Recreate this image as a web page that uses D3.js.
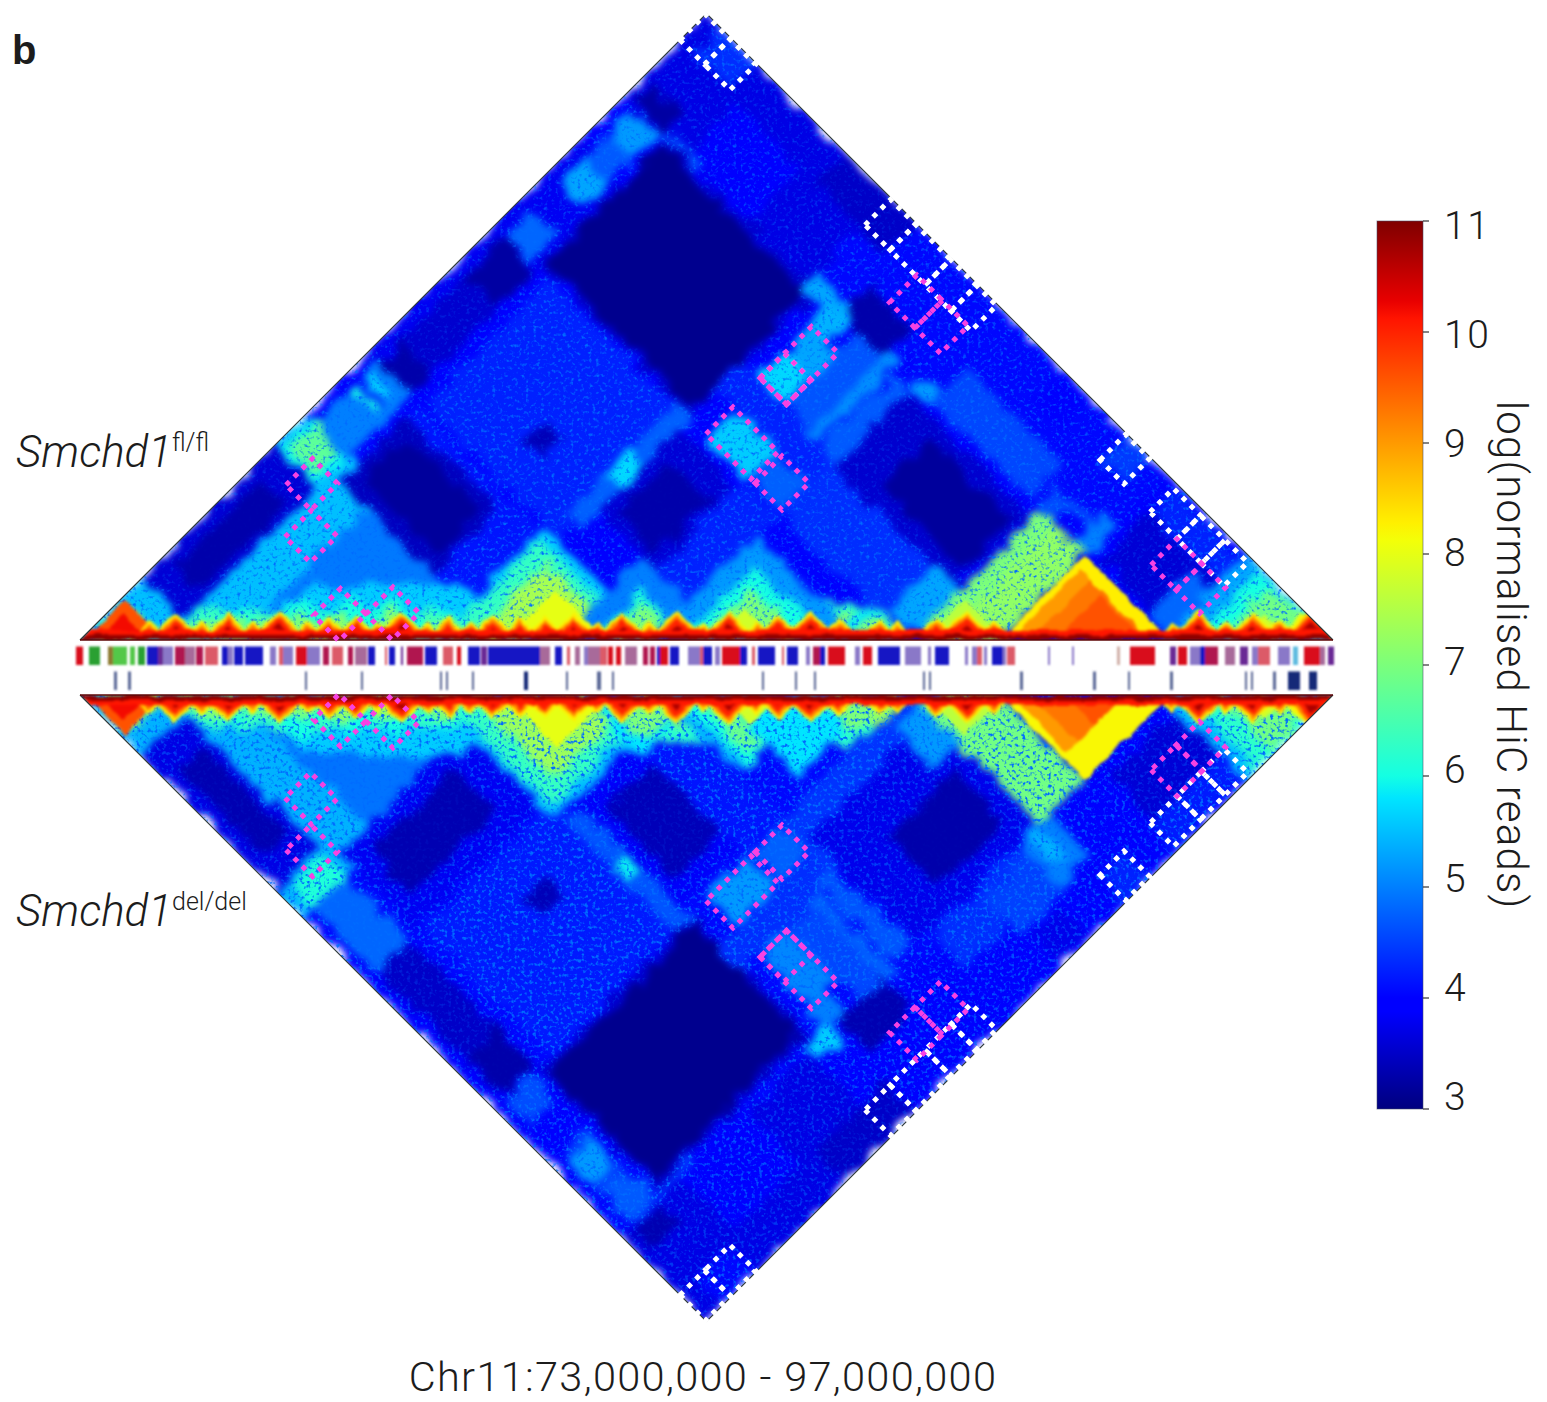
<!DOCTYPE html>
<html><head><meta charset="utf-8">
<script src="https://cdn.jsdelivr.net/npm/d3@7"></script>
<style>html,body{margin:0;background:#fff}svg{display:block}text{font-family:Roboto,"Liberation Sans",sans-serif;font-weight:300;fill:#1c1c1c}</style>
</head><body><div id="c"></div>
<script>
// genomic axis: 1253 bins of ~19.15 kb over Chr11:73-97 Mb
const binCount = 1253;
const colorTicks = [3,4,5,6,7,8,9,10,11];
// contact-map blocks [startBinA, endBinA, startBinB, endBinB, log reads]
const upperBlocks = [
[0,1253,0,1253,4.0],[0,370,1085,1253,3.7],[370,920,1110,1253,4.05],[280,420,1190,1253,3.5],[120,250,1080,1190,3.95],
[15,72,1090,1128,3.25],[30,100,1200,1253,4.35],[0,90,560,1000,3.8],[110,380,580,830,4.25],[23,72,937,1085,4.7],[23,72,937,985,5.3],[23,72,1035,1082,5.2],
[75,150,1078,1098,4.6],[20,70,828,880,4.8],[20,85,575,825,3.55],[25,85,750,825,3.25],[20,85,570,620,3.3],
[85,390,835,1085,3.55],[90,382,845,1075,3.1],[245,282,645,685,3.4],[358,392,610,835,4.75],[360,390,690,740,5.7],
[0,160,0,450,5.5],[12,85,390,450,5.9],[20,70,400,450,6.7],[20,85,450,575,5.0],[20,70,522,532,6.0],[20,70,545,555,5.8],[20,70,535,543,4.2],
[0,85,125,390,3.6],[20,70,170,340,3.3],[155,350,155,420,4.95],[100,350,420,570,4.15],[102,285,420,550,3.45],[125,270,440,530,3.2],
[425,505,825,890,5.6],[510,572,830,886,4.75],[390,505,645,810,3.6],[410,490,665,770,3.3],[505,580,560,820,4.25],
[382,580,888,942,4.25],[471,520,942,1090,4.65],[418,471,942,1045,5.3],[418,471,942,991,5.7],[520,540,935,1095,5.1],[545,580,930,1080,4.7],
[370,450,1070,1105,5.3],[415,450,1040,1085,5.4],[435,520,1085,1145,3.3],[575,610,1080,1105,5.2],
[572,825,825,930,4.35],[580,823,927,1075,3.55],[650,810,955,1050,3.2],[610,810,1090,1160,4.55],[710,770,1190,1250,3.9],
[780,845,845,930,5.3],[830,920,855,1090,7.0],[860,920,920,1090,7.2],[820,920,1090,1130,4.6],[850,895,1090,1120,3.9],[895,925,1090,1150,5.0],
[925,1095,1090,1253,4.0],[940,1090,1100,1200,3.6],[942,1090,1198,1245,4.25],[1040,1095,1090,1180,4.8],[840,888,1200,1253,4.45]
];
const lowerBlocks = [
[0,1253,0,1253,4.05],[0,370,1085,1253,3.7],[370,920,1110,1253,4.0],[280,420,1190,1253,3.5],[120,250,1060,1190,3.9],
[15,72,1090,1128,3.35],[30,100,1200,1253,4.05],[0,90,560,1000,3.9],[110,380,580,830,4.2],[23,72,940,1085,4.5],[23,72,955,1000,5.2],[23,72,1020,1075,4.7],
[75,150,1060,1085,4.4],[20,70,828,880,4.6],[20,85,575,825,3.5],[25,85,750,825,3.3],[20,85,525,540,5.6],
[85,390,835,1070,3.55],[90,382,845,1060,3.1],[245,282,645,685,3.4],[358,392,610,835,4.65],[360,390,700,735,5.9],
[0,160,0,450,5.4],[12,85,390,450,5.4],[20,85,400,450,6.1],[20,85,450,575,4.8],
[0,85,125,390,3.7],[25,70,175,345,3.35],[155,350,155,420,4.9],[102,365,420,570,3.8],[135,300,445,530,3.35],
[425,505,825,890,5.2],[510,572,830,886,4.75],[390,560,585,810,3.85],[410,520,640,780,3.4],[505,580,585,820,4.15],
[382,580,888,942,4.35],[471,520,942,1090,4.55],[418,471,942,1045,5.05],[520,540,935,1095,4.75],[545,580,930,1080,4.65],
[375,420,1075,1105,5.6],[410,450,1045,1085,5.0],[435,520,1085,1145,3.35],
[572,825,825,930,4.4],[587,825,870,1085,3.75],[665,800,950,1050,3.3],[610,810,1090,1160,4.35],[700,800,1110,1180,4.5],[710,770,1190,1250,3.75],
[780,845,845,930,5.2],[830,920,855,1090,6.9],[790,850,1090,1170,5.0],[805,825,1095,1150,5.4],[860,910,1095,1125,4.0],
[920,1095,1090,1253,3.95],[950,1090,1110,1200,3.6],[942,1090,1198,1245,4.2],[840,888,1200,1253,4.25]
];
// distance-decay shoulders along the diagonal [startBin, endBin, reach in bins, log reads]
const upperShoulders = [
[170,440,110,5.6],[90,430,58,6.3],[90,430,40,7.2],[520,830,74,6.2],[520,830,50,7.2],[1090,1253,50,7.2]
];
const lowerShoulders = [
[170,440,120,5.6],[90,430,66,6.3],[90,430,44,7.2],[520,830,96,6.2],[520,830,64,7.2],[1090,1253,56,7.2]
];
// self-interacting domains seen as triangles on the diagonal [startBin, endBin, log reads]
const upperDomains = [
[350,575,5.6],[360,560,6.3],[390,545,7.4],[425,525,8.0],[10,85,6.2],[90,135,6],[125,190,6],[175,265,6],[225,315,6],[270,360,6],[330,400,6],
[15,85,7.2],[95,130,6.9],[135,180,7],[190,250,7],[230,290,7.2],[280,340,7.2],[335,390,7],
[480,645,5],[510,610,6],[520,600,7],[570,780,5.2],[600,750,6],[620,720,7],[635,695,7.8],[750,825,5.8],[765,815,7],
[845,925,7.6],[920,1090,8.3],[930,1070,9.0],[950,1070,9.3],[975,1065,9.6],[1080,1253,5.3],[1110,1250,6],[1135,1245,6.9],[1160,1210,7.8],[1195,1245,8],
[5,85,9.6],[18,70,10.2]
];
const lowerDomains = [
[350,600,5.5],[360,585,6.3],[390,560,7.3],[425,530,8.0],[10,85,6.2],[90,135,6],[125,190,6],[175,265,6],[225,315,6],[270,360,6],[330,400,6],
[15,85,7.2],[95,130,6.9],[135,180,7],[190,250,7],[230,290,7.2],[280,340,7.2],[335,390,7],
[500,620,5.8],[520,610,7],[580,740,5.4],[595,740,6],[610,730,6.8],[640,700,7.8],[640,800,5.8],[740,815,7],
[845,925,7.6],[920,1090,8.2],[930,1045,9.0],[950,1045,9.3],[985,1045,9.6],[1080,1253,5.5],[1105,1253,6.2],[1135,1245,6.9],[1160,1210,7.8],[1195,1245,8],
[5,85,9.6],[18,70,10.2]
];
// sub-domain boundaries along the diagonal, one list per uninterrupted run
const diagonalRuns = [
[60,78,112,130,165,181,219,236,262,290,303,340,356,382,398,428,452,478,510,525,560,578,615,630,668,684,712,748,770],
[790,810,826],[845,868,905,923],[1085,1100,1138,1155,1190,1210,1253]
];
const diagonalLevels = [8.3,9.2,10,10.7];
const diagonalWiden = [11,7,3,-3];
// chromatin compartment track [startBin, endBin, class]
const compSegments = [
[-4,3,"R"],[9,20,"G"],[28,33,"O"],[33,47,"L"],[50,55,"L"],[58,65,"G"],[67,78,"B"],[78,83,"P"],[83,93,"V"],[95,105,"C"],[105,115,"M"],[116,123,"C"],[125,138,"K"],
[142,148,"B"],[148,153,"V"],[154,163,"B"],[165,183,"B"],[190,196,"V"],[199,203,"K"],[203,213,"V"],[216,227,"R"],[227,240,"V"],[243,249,"C"],[252,263,"K"],[268,273,"C"],[275,287,"M"],[288,295,"B"],
[305,307,"K"],[309,315,"B"],[321,323,"P"],[327,343,"C"],[345,357,"B"],[363,373,"K"],[377,381,"R"],[388,400,"B"],[401,407,"P"],[408,460,"B"],[460,470,"M"],[475,482,"B"],[487,490,"K"],[495,500,"M"],
[504,508,"V"],[508,520,"M"],[520,527,"K"],[528,533,"R"],[536,541,"R"],[545,557,"M"],[563,568,"C"],[570,575,"C"],[577,580,"B"],[580,588,"R"],[590,599,"B"],[608,620,"V"],[620,623,"K"],[623,632,"B"],
[635,640,"V"],[642,660,"R"],[660,667,"B"],[672,675,"K"],[678,695,"B"],[702,704,"K"],[707,718,"B"],[726,730,"V"],[733,740,"C"],[740,745,"B"],[748,765,"R"],[775,780,"V"],[783,792,"R"],[798,820,"B"],
[825,841,"V"],[848,851,"V"],[855,869,"B"],[885,888,"V"],[892,897,"V"],[897,902,"K"],[904,907,"V"],[912,923,"B"],[923,926,"V"],[927,935,"K"],[968,970,"V"],[992,994,"V"],[1037,1040,"T"],[1050,1075,"R"],
[1090,1096,"P"],[1098,1107,"R"],[1110,1120,"V"],[1120,1125,"B"],[1125,1138,"C"],[1145,1155,"M"],[1160,1168,"P"],[1172,1178,"V"],[1178,1190,"K"],[1198,1210,"V"],[1213,1218,"S"],[1224,1240,"R"],[1240,1245,"M"],[1248,1254,"P"]
];
const compColors = {R:"#d9101e",G:"#2ba033",O:"#8c7a30",L:"#52c84a",B:"#1313c4",P:"#6a2a95",V:"#8a78c8",C:"#b01450",M:"#a86a9a",K:"#dc5a68",T:"#d0b0a8",S:"#60bce0"};
// insulator / feature track
const featStart = [34,48,225,281,360,366,392,444,486,517,532,682,715,734,843,849,940,1013,1048,1090,1165,1171,1193,1208,1229];
const featWidth = [3,3,2,2,2,2,2,4,2,4,2,2,2,2,2,2,3,3,2,3,2,2,3,12,8];
const featDark  = [0,0,0,0,0,0,0,1,0,0,0,0,0,0,0,0,0,0,0,0,0,0,0,1,1];
// annotated regions [startA,endA,startB,endB]
const whiteBoxes = [[0,49,1200,1251],[49,100,1200,1251],[370,420,1200,1251],[420,490,1200,1251],[490,542,1200,1251],[542,582,1200,1251],[840,888,1200,1251],[942,996,1198,1245],[996,1045,1198,1245],[1045,1090,1198,1245]];
const upperExtraWhite = [[418,471,942,991]];
const magentaBoxes = [[420,510,832,886],[518,572,832,886],[472,523,1147,1202],[523,574,1147,1202],[418,471,942,1045],[418,471,942,991],[51,101,361,414],[102,153,308,361],[209,260,258,312],[260,312,312,366],[996,1046,1146,1198],[1046,1093,1146,1198]];

const W=1547,H=1402;
const svg=d3.select("#c").append("svg").attr("width",W).attr("height",H);
const defs=svg.append("defs");
const xS=d3.scaleLinear().domain([0,binCount]).range([80,1333]);
const yUp=d3.scaleLinear().domain([0,binCount]).range([640,640-1253]);
const yLo=d3.scaleLinear().domain([0,binCount]).range([695,695+1253]);
const jetT=[0,.11,.125,.35,.375,.5,.64,.66,.89,.91,1];
const jetC=["#00007f","#0000ff","#0000ff","#00e5ff","#14ffe3","#7bff7b","#f3ff08","#fff000","#ff1400","#e80000","#7f0000"];
const jet=d3.scaleLinear().domain(jetT.map(t=>3+8*t)).range(jetC).clamp(true);

function f(id,std,seed,wob,gain,off){
  const fl=defs.append("filter").attr("id",id).attr("filterUnits","userSpaceOnUse").attr("x",0).attr("y",0).attr("width",W).attr("height",H).attr("color-interpolation-filters","sRGB");
  fl.append("feTurbulence").attr("type","fractalNoise").attr("baseFrequency",.055).attr("numOctaves",3).attr("seed",seed+1).attr("result","w");
  fl.append("feDisplacementMap").attr("in","SourceGraphic").attr("in2","w").attr("scale",wob).attr("xChannelSelector","R").attr("yChannelSelector","G").attr("result","d");
  fl.append("feGaussianBlur").attr("in","d").attr("stdDeviation",std).attr("result","b");
  if(gain){
    fl.append("feTurbulence").attr("type","fractalNoise").attr("baseFrequency",.27).attr("numOctaves",2).attr("seed",seed).attr("result","n");
    fl.append("feColorMatrix").attr("in","n").attr("type","matrix").attr("values",`0 0 0 0 0  0 0 0 0 .42  0 0 0 0 1  ${gain} 0 0 0 ${off}`).attr("result","s");
    fl.append("feColorMatrix").attr("in","b").attr("type","matrix").attr("values","0 0 0 0 0  0 0 0 0 0  0 0 0 0 0  0 3 2.2 0 -1.45").attr("result","mask");
    fl.append("feComposite").attr("in","s").attr("in2","mask").attr("operator","in").attr("result","sp");
    const m=fl.append("feMerge");m.append("feMergeNode").attr("in","b");m.append("feMergeNode").attr("in","sp");
  }
}
f("heatU",3.8,11,22,3.2,-1.72);f("heatL",3.8,23,22,4.2,-2.2);f("soft",1.6,1,6,0,0);
defs.append("filter").attr("id","track").append("feGaussianBlur").attr("stdDeviation",.9);

const tri=(a,b,y)=>[xS((a+b)/2),y((b-a)/2)];
const blockPts=(d,y)=>[tri(d[0],d[2],y),tri(d[0],d[3],y),tri(d[1],d[3],y),tri(d[1],d[2],y)].join(" ");
const domainPts=(d,y)=>[tri(d[0],d[0],y),tri(d[0],d[1],y),tri(d[1],d[1],y)].join(" ");
const shoulderPts=(d,y)=>[tri(d[0],d[0],y),tri(d[0],d[0]+d[2],y),tri(d[1]-d[2],d[1],y),tri(d[1],d[1],y)].join(" ");

function triangle(id,blocks,shoulders,domains,y,filt){
  defs.append("clipPath").attr("id",id).append("polygon").attr("points",[tri(0,0,y),tri(0,binCount,y),tri(binCount,binCount,y)].join(" "));
  const g=svg.append("g").attr("clip-path",`url(#${id})`);
  const g1=g.append("g").attr("filter",`url(#${filt})`);
  g1.selectAll("polygon.b").data(blocks).join("polygon").attr("class","b").attr("points",d=>blockPts(d,y)).attr("fill",d=>jet(d[4]));
  g1.selectAll("polygon.s").data(shoulders).join("polygon").attr("class","s").attr("points",d=>shoulderPts(d,y)).attr("fill",d=>jet(d[3]));
  g1.selectAll("polygon.d").data(domains.filter(d=>d[2]<7.5)).join("polygon").attr("class","d").attr("points",d=>domainPts(d,y)).attr("fill",d=>jet(d[2]));
  const g2=g.append("g").attr("filter","url(#soft)");
  g2.selectAll("polygon.h").data(domains.filter(d=>d[2]>=7.5)).join("polygon").attr("class","h").attr("points",d=>domainPts(d,y)).attr("fill",d=>jet(d[2]));
  diagonalLevels.forEach((val,i)=>{
    const pad=diagonalWiden[i];
    diagonalRuns.forEach(run=>{
      d3.pairs(run).forEach(p=>{
        g2.append("polygon").attr("points",domainPts([p[0]-pad,p[1]+pad],y)).attr("fill",jet(val));
      });
    });
  });
  g2.append("polygon").attr("points",[tri(0,0,y),tri(0,20,y),tri(binCount-20,binCount,y),tri(binCount,binCount,y)].join(" ")).attr("fill",jet(10.1));
  g2.append("polygon").attr("points",[tri(0,0,y),tri(0,10,y),tri(binCount-10,binCount,y),tri(binCount,binCount,y)].join(" ")).attr("fill",jet(10.9));
  svg.append("polyline").attr("points",[tri(0,0,y),tri(0,binCount,y),tri(binCount,binCount,y)].join(" ")).attr("fill","none").attr("stroke","#2e3a3a").attr("stroke-width",1.2);
  svg.append("line").attr("x1",xS(0)).attr("x2",xS(binCount)).attr("y1",y(0)).attr("y2",y(0)).attr("stroke","#5e0505").attr("stroke-width",1.6);
}
triangle("cu",upperBlocks,upperShoulders,upperDomains,yUp,"heatU");
triangle("cl",lowerBlocks,lowerShoulders,lowerDomains,yLo,"heatL");

// tracks
const trk=svg.append("g").attr("filter","url(#track)");
trk.selectAll("rect.c").data(compSegments).join("rect").attr("class","c")
 .attr("x",d=>xS(d[0])).attr("width",d=>xS(d[1])-xS(d[0])).attr("y",646.5).attr("height",18.5).attr("fill",d=>compColors[d[2]]);
trk.selectAll("rect.f").data(featStart.map((s,i)=>[s,featWidth[i],featDark[i]])).join("rect").attr("class","f")
 .attr("x",d=>xS(d[0])).attr("width",d=>xS(d[1])-xS(0)).attr("y",671.5).attr("height",18.5).attr("fill",d=>d[2]?"#182a78":"#5a6896");

// dotted annotations
function boxes(list,y,col){
  svg.append("g").selectAll("polygon").data(list).join("polygon").attr("points",d=>blockPts(d,y))
   .attr("fill","none").attr("stroke",col).attr("stroke-width",5).attr("stroke-dasharray","5 6.4");
}
boxes(whiteBoxes.concat(upperExtraWhite),yUp,"#fff");boxes(whiteBoxes,yLo,"#fff");
boxes(magentaBoxes,yUp,"#f742e2");boxes(magentaBoxes,yLo,"#f742e2");

// colour bar
const cy=d3.scaleLinear().domain([3,11]).range([1109,221]);
const labY=d3.scaleLinear().domain([3,11]).range([1096,225]);
const gr=defs.append("linearGradient").attr("id","jetg").attr("x1",0).attr("x2",0).attr("y1",1).attr("y2",0);
jetT.forEach((t,i)=>gr.append("stop").attr("offset",t).attr("stop-color",jetC[i]));
svg.append("rect").attr("x",1377).attr("width",46).attr("y",cy(11)).attr("height",cy(3)-cy(11)).attr("fill","url(#jetg)").attr("stroke","#444a66").attr("stroke-opacity",.55).attr("stroke-width",1);
svg.append("g").selectAll("line").data(colorTicks).join("line").attr("x1",1423).attr("x2",1429).attr("y1",d=>cy(d)).attr("y2",d=>cy(d)).attr("stroke","#333").attr("stroke-width",1.2);
svg.append("g").selectAll("text").data(colorTicks).join("text").attr("x",1444).attr("y",d=>labY(d)).attr("dy",".36em").attr("font-size",39).style("letter-spacing","1.5px").text(d=>d);
svg.append("text").attr("transform","translate(1497,655) rotate(90)").attr("text-anchor","middle").attr("font-size",42).style("letter-spacing","1.2px").text("log(normalised HiC reads)");

// text
svg.append("text").attr("x",12).attr("y",64).attr("font-size",40).style("font-weight",700).style("font-family","'Liberation Sans',sans-serif").text("b");
function label(y,sup){
  const t=svg.append("text").attr("x",16).attr("y",y).attr("font-size",44);
  t.append("tspan").attr("font-style","italic").text("Smchd1");
  t.append("tspan").attr("font-size",25).attr("dy",-16).text(sup);
}
label(467,"fl/fl");label(926,"del/del");
svg.append("text").attr("x",703).attr("y",1391).attr("text-anchor","middle").attr("font-size",41.5).style("letter-spacing","1.3px").text("Chr11:73,000,000 - 97,000,000");
</script></body></html>
